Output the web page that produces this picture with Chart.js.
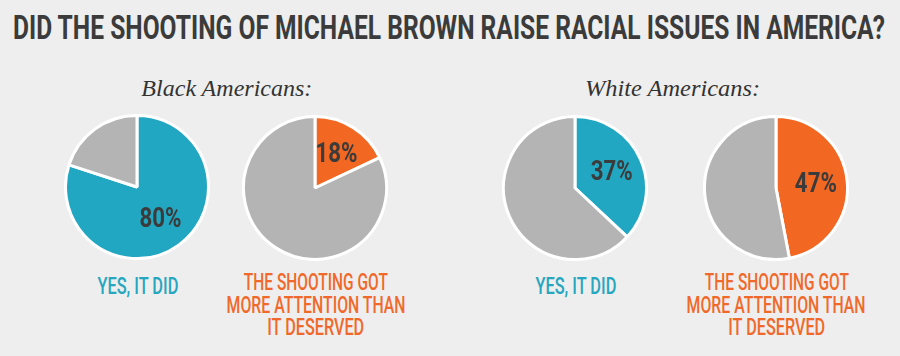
<!DOCTYPE html>
<html>
<head>
<meta charset="utf-8">
<script src="https://cdn.jsdelivr.net/npm/chart.js@4.4.1/dist/chart.umd.min.js"></script>
<style>
  html, body { margin: 0; padding: 0; }
  body { width: 900px; height: 356px; background: #eeeeee; overflow: hidden; }
  #wrap { position: relative; width: 900px; height: 356px; background: #eeeeee; overflow: hidden; }
  .pie { position: absolute; width: 146px; height: 146px; }
  .txt { position: absolute; width: 2000px; text-align: center; white-space: nowrap; line-height: 1; }
  .txt span { display: inline-block; transform-origin: 50% 50%; }
</style>
</head>
<body>
<div id="wrap"></div>
<script>
// ---- data ----
const title = 'DID THE SHOOTING OF MICHAEL BROWN RAISE RACIAL ISSUES IN AMERICA?';
const groups = ['Black Americans:', 'White Americans:'];
const questions = ['YES, IT DID', 'THE SHOOTING GOT MORE ATTENTION THAN IT DESERVED'];
const questionLines = [['YES, IT DID'], ['THE SHOOTING GOT', 'MORE ATTENTION THAN', 'IT DESERVED']];
const blackValues = [80, 18];
const whiteValues = [37, 47];

// ---- style ----
const accentColors = ['#22a7c2', '#f26722'];
const textColors = ['#27a6c0', '#f0692a'];
const greyColor = '#b4b4b4';
const darkText = '#3b3b3b';

const wrap = document.getElementById('wrap');

function addText(text, cx, top, font, color, targetWidth) {
  const d = document.createElement('div');
  d.className = 'txt';
  d.style.left = (cx - 1000) + 'px';
  d.style.top = top + 'px';
  const s = document.createElement('span');
  s.textContent = text;
  s.style.font = font;
  s.style.color = color;
  d.appendChild(s);
  wrap.appendChild(d);
  if (targetWidth) {
    const w = s.getBoundingClientRect().width;
    s.style.transform = 'scaleX(' + (targetWidth / w) + ')';
  }
}

// title
addText(title, 449, 8, 'bold 33px Roboto', darkText, 872);

// group subtitles
const groupCenters = [227, 673];
groups.forEach((g, i) => addText(g, groupCenters[i], 76, 'italic 23px "Liberation Serif"', '#333333', 171 + i * 4));

// pies
const pieCenters = [[137, 187], [315, 188], [574.5, 188], [775.5, 188]];
const pieValues = [blackValues[0], blackValues[1], whiteValues[0], whiteValues[1]];
const pieQuestion = [0, 1, 0, 1];

const pctPlugin = {
  id: 'pct',
  afterDatasetsDraw(chart) {
    const arc = chart.getDatasetMeta(0).data[0];
    const mid = (arc.startAngle + arc.endAngle) / 2;
    const r = arc.outerRadius * 0.56;
    const x = arc.x + Math.cos(mid) * r;
    const y = arc.y + Math.sin(mid) * r;
    const ctx = chart.ctx;
    const txt = chart.data.datasets[0].data[0] + '%';
    ctx.save();
    ctx.font = 'bold 27px Roboto';
    ctx.fillStyle = darkText;
    ctx.textAlign = 'center';
    ctx.textBaseline = 'middle';
    const w = ctx.measureText(txt).width;
    ctx.translate(x, y + 1);
    ctx.scale(42 / w, 1);
    ctx.fillText(txt, 0, 0);
    ctx.restore();
  }
};

pieCenters.forEach((c, i) => {
  const cv = document.createElement('canvas');
  cv.className = 'pie';
  cv.width = 146; cv.height = 146;
  cv.style.left = (c[0] - 73) + 'px';
  cv.style.top = (c[1] - 73) + 'px';
  wrap.appendChild(cv);
  const q = pieQuestion[i];
  new Chart(cv, {
    type: 'pie',
    data: {
      labels: [questions[q], 'Other'],
      datasets: [{
        data: [pieValues[i], 100 - pieValues[i]],
        backgroundColor: [accentColors[q], greyColor],
        borderColor: '#ffffff',
        borderWidth: 3
      }]
    },
    options: {
      responsive: false,
      animation: false,
      layout: { padding: 0 },
      plugins: { legend: { display: false }, tooltip: { enabled: false } }
    },
    plugins: [pctPlugin]
  });

  // question label lines
  const lines = questionLines[q];
  const widths = q === 0 ? [81] : [144, 179, 97];
  const tops = q === 0 ? [273] : [269, 292, 314];
  lines.forEach((ln, k) => addText(ln, c[0] + 1, tops[k], '500 23px Roboto', textColors[q], widths[k]));
});
</script>
</body>
</html>
